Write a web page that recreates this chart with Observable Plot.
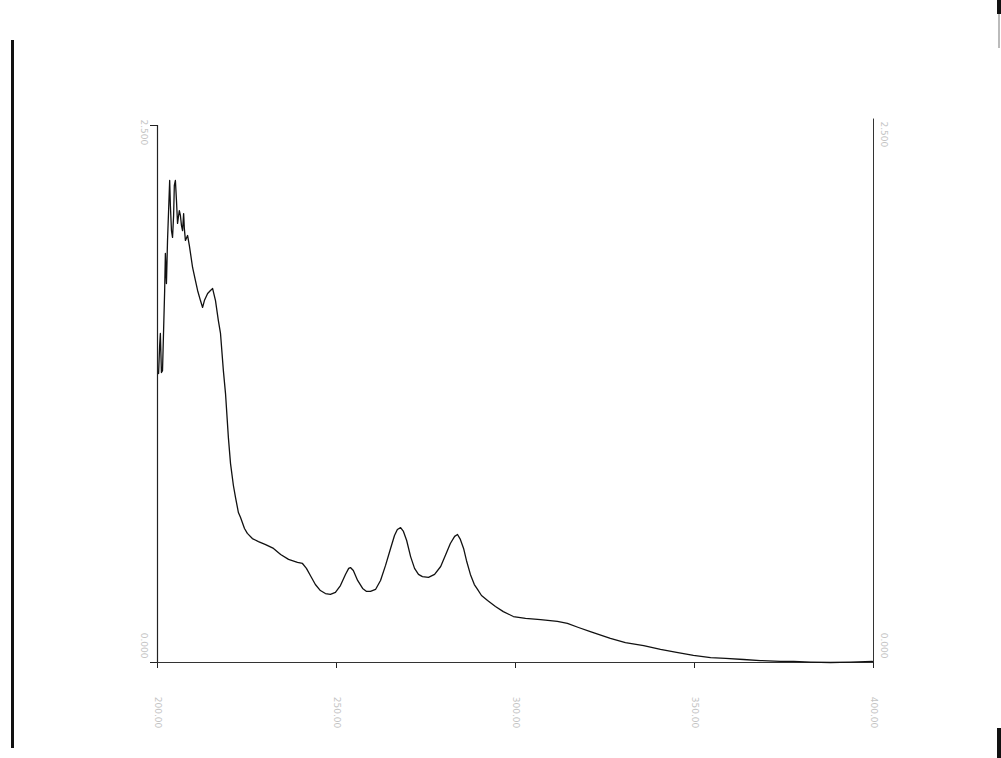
<!DOCTYPE html>
<html>
<head>
<meta charset="utf-8">
<script src="https://cdn.jsdelivr.net/npm/d3@7"></script>
<script src="https://cdn.jsdelivr.net/npm/@observablehq/plot@0.6"></script>
<style>
  html, body { margin: 0; padding: 0; background: #fff; }
  #wrap { position: relative; width: 1001px; height: 758px; overflow: hidden; }
  .scan { position: absolute; background: #111; }
</style>
</head>
<body>
<div id="wrap">
  <div class="scan" style="left:11px; top:40px; width:3px; height:708px;"></div>
  <div class="scan" style="left:997px; top:0px; width:4px; height:14px;"></div>
  <div class="scan" style="left:998px; top:14px; width:2px; height:34px; background:#bbb;"></div>
  <div class="scan" style="left:997px; top:728px; width:4px; height:30px;"></div>
</div>
<script>
// Wavelength (nm)
const wavelength = [
  200.3, 200.6, 200.8, 201.1, 201.4, 201.7, 202.0, 202.2, 202.5, 202.8,
  203.1, 203.4, 203.6, 203.9, 204.2, 204.5, 204.7, 205.0, 205.3, 205.6,
  205.9, 206.1, 206.4, 206.7, 207.0, 207.3, 207.5, 207.8, 208.4, 208.9,
  209.8, 210.6, 211.2, 212.0, 212.6, 213.1, 214.0, 214.8, 215.4, 216.2,
  217.0, 217.6, 218.4, 219.0, 219.8, 220.4, 221.2, 221.8, 222.6, 223.2,
  224.3, 225.1, 226.5, 228.2, 230.2, 232.4, 234.4, 236.6, 239.1, 240.5,
  241.6, 242.7, 244.1, 245.5, 246.9, 248.3, 249.7, 251.1, 252.5, 253.4,
  253.9, 254.7, 255.9, 257.3, 258.4, 259.5, 260.9, 262.3, 263.7, 265.1,
  266.2, 267.0, 267.9, 268.7, 269.6, 270.7, 271.8, 272.9, 274.0, 275.7,
  277.4, 279.1, 280.4, 281.8, 283.0, 283.8, 284.6, 285.5, 286.3, 287.4,
  288.5, 289.4, 290.5, 292.2, 294.4, 296.6, 299.4, 302.8, 307.0, 311.7,
  314.5, 317.6, 320.9, 326.5, 330.7, 335.8, 340.5, 345.0, 349.7, 354.5,
  358.7, 363.7, 368.4, 374.0, 377.7, 382.4, 388.0, 393.6, 399.7
];
// Absorbance
const absorbance = [
  1.345, 1.476, 1.532, 1.350, 1.359, 1.546, 1.732, 1.904, 1.764, 1.965,
  2.104, 2.244, 2.128, 2.011, 1.979, 2.081, 2.221, 2.244, 2.151, 2.044,
  2.081, 2.104, 2.081, 2.034, 2.011, 2.090, 2.020, 1.965, 1.988, 1.941,
  1.839, 1.778, 1.732, 1.685, 1.653, 1.685, 1.718, 1.732, 1.741, 1.685,
  1.592, 1.532, 1.359, 1.252, 1.047, 0.926, 0.824, 0.768, 0.698, 0.675,
  0.624, 0.601, 0.577, 0.563, 0.549, 0.531, 0.503, 0.480, 0.466, 0.461,
  0.438, 0.405, 0.363, 0.335, 0.321, 0.317, 0.326, 0.358, 0.410, 0.438,
  0.442, 0.428, 0.382, 0.345, 0.331, 0.331, 0.340, 0.382, 0.452, 0.531,
  0.591, 0.619, 0.628, 0.610, 0.568, 0.493, 0.438, 0.410, 0.400, 0.396,
  0.410, 0.447, 0.498, 0.554, 0.587, 0.596, 0.573, 0.531, 0.475, 0.410,
  0.363, 0.340, 0.312, 0.289, 0.261, 0.237, 0.214, 0.205, 0.200, 0.191,
  0.182, 0.163, 0.144, 0.112, 0.093, 0.079, 0.061, 0.047, 0.033, 0.023,
  0.019, 0.014, 0.009, 0.005, 0.005, 0.002, 0.000, 0.002, 0.005
];
const xTicks = [200, 250, 300, 350, 400];
const xTickLabels = ["200.00", "250.00", "300.00", "350.00", "400.00"];
const yTopLabel = "2.500";
const yBottomLabel = "0.000";

const spectrum = wavelength.map((w, i) => ({w, a: absorbance[i]}));
const xLab = xTicks.map((v, i) => ({v, t: xTickLabels[i]}));

const faint = "#c4c4c4";
const chart = Plot.plot({
  width: 1001,
  height: 758,
  marginLeft: 157,
  marginRight: 128,
  marginTop: 125,
  marginBottom: 96,
  style: {background: "transparent", fontFamily: "DejaVu Sans"},
  x: {domain: [200, 400], axis: null, label: null},
  y: {domain: [0, 2.5], axis: null, label: null},
  marks: [
    Plot.axisX({ticks: xTicks, tickSize: 6, tickFormat: () => "", stroke: "#222", label: null}),
    Plot.axisY({ticks: [0, 2.5], tickSize: 7, tickFormat: () => "", stroke: "#222", label: null}),
    Plot.ruleX([200], {y1: 0, y2: 2.5, stroke: "#222", strokeWidth: 1.2}),
    Plot.ruleX([400], {y1: 0, y2: 2.53, stroke: "#333", strokeWidth: 1}),
    Plot.ruleY([0], {x1: 200, x2: 400, stroke: "#333", strokeWidth: 1}),
    Plot.line(spectrum, {x: "w", y: "a", stroke: "#111", strokeWidth: 1.3}),
    Plot.text(xLab, {x: "v", y: 0, text: "t", rotate: 90, dy: 50, fill: faint, fontSize: 9}),
    Plot.text([yTopLabel], {x: 200, y: 2.5, text: (d) => d, rotate: 90, dx: -14, dy: -6, fill: faint, fontSize: 9, textAnchor: "start"}),
    Plot.text([yBottomLabel], {x: 200, y: 0, text: (d) => d, rotate: 90, dx: -14, dy: -4, fill: faint, fontSize: 9, textAnchor: "end"}),
    Plot.text([yTopLabel], {x: 400, y: 2.5, text: (d) => d, rotate: 90, dx: 10, dy: -4, fill: faint, fontSize: 9, textAnchor: "start"}),
    Plot.text([yBottomLabel], {x: 400, y: 0, text: (d) => d, rotate: 90, dx: 10, dy: -4, fill: faint, fontSize: 9, textAnchor: "end"})
  ]
});
document.getElementById("wrap").appendChild(chart);
chart.style.position = "absolute";
chart.style.left = "0px";
chart.style.top = "0px";
</script>
</body>
</html>
